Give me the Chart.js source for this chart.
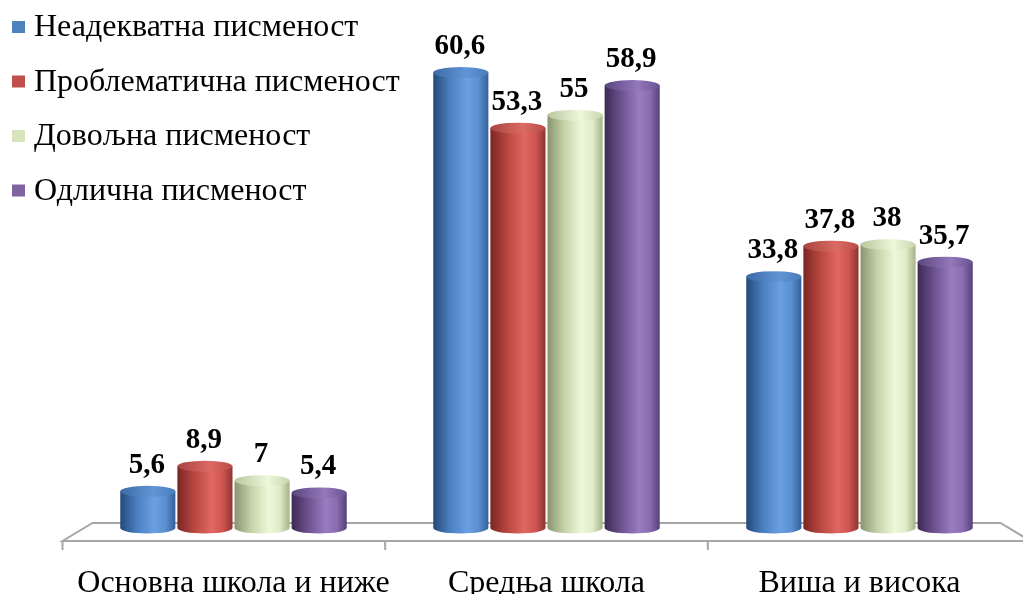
<!DOCTYPE html>
<html>
<head>
<meta charset="utf-8">
<script src="https://cdn.jsdelivr.net/npm/chart.js@4/dist/chart.umd.min.js"></script>
<style>
html,body{margin:0;padding:0;background:#fff;}
#wrap{width:1023px;height:594px;position:relative;}
</style>
</head>
<body>
<div id="wrap"><canvas id="c" width="1023" height="594"></canvas></div>
<script>
const categories = ['Основна школа и ниже', 'Средња школа', 'Виша и висока'];
const seriesNames = ['Неадекватна писменост', 'Проблематична писменост', 'Довољна писменост', 'Одлична писменост'];
const inadequate = [5.6, 60.6, 33.8];
const problematic = [8.9, 53.3, 37.8];
const sufficient = [7, 55, 38];
const excellent = [5.4, 58.9, 35.7];
const yTicks = [0, 70];

const legendColors = ['#4f81bd', '#c0504d', '#d7e4bd', '#8064a2'];
const gradStops = [
  ['#244a78', '#4a7fc0', '#6aa0e2', '#5a8fd0', '#34609a'],
  ['#7a2624', '#b8463f', '#e06862', '#d05550', '#8e3432'],
  ['#8a9570', '#c4d2a8', '#eef8da', '#dfecc8', '#a6b28a'],
  ['#3c2a52', '#6c5290', '#9a7cc0', '#8a6cb0', '#56407a']
];
const capStops = [
  ['#3d6ba6', '#5f95d6', '#4a7dbc'],
  ['#a84440', '#dc6a64', '#b84c48'],
  ['#b8c69c', '#eef8dc', '#c8d6ac'],
  ['#5a4680', '#9478ba', '#6a5290']
];

function fmt(v){ return String(v).replace('.', ','); }

const cylinderPlugin = {
  id: 'cylinders',
  beforeDatasetsDraw(chart){
    const ctx = chart.ctx, a = chart.chartArea;
    const backY = a.bottom - 11, frontY = a.bottom + 7;
    ctx.save();
    ctx.strokeStyle = '#a6a6a6';
    ctx.lineWidth = 2;
    ctx.beginPath();
    ctx.moveTo(a.left - 14.5, frontY);
    ctx.lineTo(a.left + 15.5, backY);
    ctx.lineTo(a.right - 15.5, backY);
    ctx.lineTo(a.right + 14.5, frontY);
    ctx.closePath();
    ctx.stroke();
    const fl = a.left - 14.5, fr = a.right + 14.5;
    const n = chart.data.labels.length;
    ctx.beginPath();
    for (let i = 0; i <= n; i++) {
      const x = fl + (fr - fl) * i / n;
      ctx.moveTo(x, frontY);
      ctx.lineTo(x, frontY + 9);
    }
    ctx.stroke();
    ctx.restore();
  },
  afterDatasetsDraw(chart){
    const ctx = chart.ctx;
    const ry = 5.5;
    const n = chart.data.labels.length;
    for (let i = 0; i < n; i++) {
      chart.data.datasets.forEach((ds, di) => {
        const el = chart.getDatasetMeta(di).data[i];
        const x = el.x, y = el.y, base = el.base - 6, w = el.width - 2;
        const l = x - w / 2, r = x + w / 2;
        const g = ctx.createLinearGradient(l, 0, r, 0);
        const st = gradStops[di];
        g.addColorStop(0, st[0]); g.addColorStop(0.3, st[1]); g.addColorStop(0.62, st[2]);
        g.addColorStop(0.82, st[3]); g.addColorStop(1, st[4]);
        ctx.save();
        ctx.fillStyle = g;
        ctx.beginPath();
        ctx.moveTo(l, y);
        ctx.lineTo(l, base);
        ctx.ellipse(x, base, w / 2, ry, 0, Math.PI, 0, true);
        ctx.lineTo(r, y);
        ctx.closePath();
        ctx.fill();
        const cg = ctx.createLinearGradient(l, 0, r, 0);
        const cs = capStops[di];
        cg.addColorStop(0, cs[0]); cg.addColorStop(0.6, cs[1]); cg.addColorStop(1, cs[2]);
        ctx.fillStyle = cg;
        ctx.beginPath();
        ctx.ellipse(x, y, w / 2, ry, 0, 0, Math.PI * 2);
        ctx.fill();
        ctx.fillStyle = '#000';
        ctx.font = 'bold 29px "Liberation Serif", serif';
        ctx.textAlign = 'center';
        ctx.textBaseline = 'alphabetic';
        ctx.fillText(fmt(ds.data[i]), x - 1, y - ry - 13);
        ctx.restore();
      });
    }
  },
  afterDraw(chart){
    const ctx = chart.ctx;
    ctx.save();
    ctx.font = '32px "Liberation Serif", serif';
    ctx.textAlign = 'left';
    ctx.textBaseline = 'alphabetic';
    chart.data.datasets.forEach((ds, i) => {
      const by = 36 + i * 54.5;
      ctx.fillStyle = legendColors[i];
      ctx.fillRect(12, by - 15, 13, 12);
      ctx.fillStyle = '#000';
      ctx.fillText(ds.label, 34, by);
    });
    ctx.restore();
  }
};

const seriesData = [inadequate, problematic, sufficient, excellent];
new Chart(document.getElementById('c'), {
  type: 'bar',
  data: {
    labels: categories,
    datasets: seriesNames.map((name, i) => ({
      label: name,
      data: seriesData[i],
      backgroundColor: 'rgba(0,0,0,0)',
      borderWidth: 0
    }))
  },
  options: {
    responsive: false,
    animation: false,
    devicePixelRatio: 1,
    layout: { padding: { left: 77, right: 7, top: 1, bottom: 0 } },
    datasets: { bar: { barPercentage: 1, categoryPercentage: 0.73 } },
    plugins: { legend: { display: false }, tooltip: { enabled: false } },
    scales: {
      x: {
        grid: { display: false, drawTicks: false },
        border: { display: false },
        ticks: { color: '#000', font: { family: '"Liberation Serif", serif', size: 32 }, padding: 30, maxRotation: 0, autoSkip: false },
        afterFit(scale){ scale.height = 60; }
      },
      y: {
        display: false,
        min: yTicks[0],
        max: yTicks[1]
      }
    }
  },
  plugins: [cylinderPlugin]
});
</script>
</body>
</html>
